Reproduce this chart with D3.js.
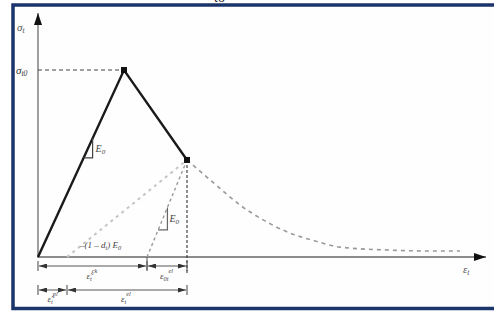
<!DOCTYPE html>
<html><head><meta charset="utf-8">
<script src="https://cdn.jsdelivr.net/npm/d3@7"></script>
<style>html,body{margin:0;padding:0;background:#fff;}svg{display:block;}</style>
</head><body>
<script>
// ---- data (arbitrary strain units, stress normalised to sigma_t0) ----
const envelopeStrain = [0, 4.3, 7.45];
const envelopeStress = [0, 1, 0.519];
const softStrain = [7.45, 8.85, 10.1, 11.35, 12.6, 13.85, 15.1, 17.6, 19.6, 21.1];
const softStress = [0.519, 0.39, 0.278, 0.193, 0.128, 0.086, 0.053, 0.037, 0.032, 0.032];
const strainPl = 1.45;     // plastic strain (unloading with damaged modulus)
const strainCk = 5.45;     // cracking strain (unloading with E0)
const axisMax = [22.4, 1.305];

const W = 494, H = 311;
const svg = d3.select("body").append("svg").attr("width", W).attr("height", H);

const x = d3.scaleLinear().domain([0, axisMax[0]]).range([38, 486]);
const y = d3.scaleLinear().domain([0, axisMax[1]]).range([257, 13]);

// caption fragment above frame
svg.append("text").attr("x", 214).attr("y", 2).attr("font-family", "Liberation Serif")
  .attr("font-size", 14).attr("fill", "#111").text("to");

// frame
svg.append("rect").attr("x", 13).attr("y", 5).attr("width", 500).attr("height", 303.5)
  .attr("fill", "#fefefe").attr("stroke", "#1b356b").attr("stroke-width", 3.5);

const defs = svg.append("defs");
function marker(id, path, w, h, refX, refY, color) {
  defs.append("marker").attr("id", id).attr("viewBox", `0 0 ${w} ${h}`)
    .attr("markerWidth", w).attr("markerHeight", h).attr("refX", refX).attr("refY", refY)
    .attr("markerUnits", "userSpaceOnUse").attr("orient", "auto")
    .append("path").attr("d", path).attr("fill", color);
}
marker("axArrow", "M0,0 L12,4 L0,8 Z", 12, 8, 12, 4, "#111");
marker("dimArrow", "M0,0 L8,2.5 L0,5 Z", 8, 5, 8, 2.5, "#333");

const g = svg.append("g");

// axes
g.append("line").attr("x1", x(0)).attr("y1", y(0)).attr("x2", x(axisMax[0])).attr("y2", y(0))
  .attr("stroke", "#666").attr("stroke-width", 1.4).attr("marker-end", "url(#axArrow)");
g.append("line").attr("x1", x(0)).attr("y1", y(0) + 1).attr("x2", x(0)).attr("y2", y(axisMax[1]))
  .attr("stroke", "#888").attr("stroke-width", 1.6).attr("marker-end", "url(#axArrow)");

const peak = [envelopeStrain[1], envelopeStress[1]];
const pt = [envelopeStrain[2], envelopeStress[2]];

// dashed guide from y-axis to peak
g.append("line").attr("x1", x(0)).attr("y1", y(peak[1])).attr("x2", x(peak[0])).attr("y2", y(peak[1]))
  .attr("stroke", "#444").attr("stroke-width", 1).attr("stroke-dasharray", "4,3");

// vertical dashed from point down
g.append("line").attr("x1", x(pt[0])).attr("y1", y(pt[1])).attr("x2", x(pt[0])).attr("y2", y(0) + 16)
  .attr("stroke", "#333").attr("stroke-width", 1.1).attr("stroke-dasharray", "3,2");

// damaged unloading line (1-d)E0
g.append("line").attr("x1", x(strainPl)).attr("y1", y(0)).attr("x2", x(pt[0])).attr("y2", y(pt[1]))
  .attr("stroke", "#c4c4c4").attr("stroke-width", 2).attr("stroke-dasharray", "3,4");
// E0 unloading line
g.append("line").attr("x1", x(strainCk)).attr("y1", y(0)).attr("x2", x(pt[0])).attr("y2", y(pt[1]))
  .attr("stroke", "#999").attr("stroke-width", 1.4).attr("stroke-dasharray", "3,3");

// softening curve
g.append("path").datum(softStrain.map((s, i) => [s, softStress[i]]))
  .attr("d", d3.line().x(d => x(d[0])).y(d => y(d[1])).curve(d3.curveMonotoneX))
  .attr("fill", "none").attr("stroke", "#9a9a9a").attr("stroke-width", 1.6).attr("stroke-dasharray", "4,4");

// main envelope
g.append("path").datum(envelopeStrain.map((s, i) => [s, envelopeStress[i]]))
  .attr("d", d3.line().x(d => x(d[0])).y(d => y(d[1])))
  .attr("fill", "none").attr("stroke", "#1a1a1a").attr("stroke-width", 2.4);

// points
[peak, pt].forEach(p => {
  g.append("rect").attr("x", x(p[0]) - 3).attr("y", y(p[1]) - 3).attr("width", 6).attr("height", 6)
    .attr("fill", "#111");
});

// slope triangles
function slopeTri(x0, y0, x1, y1, yLow, yHigh, color) {
  const slope = (y1 - y0) / (x1 - x0);
  const xl = x0 + (yLow - y0) / slope;
  const xh = x0 + (yHigh - y0) / slope;
  g.append("path").attr("d", `M${x(xl)},${y(yLow)} L${x(xh)},${y(yLow)} L${x(xh)},${y(yHigh)}`)
    .attr("fill", "none").attr("stroke", color).attr("stroke-width", 1.2);
  return [x(xh), y((yLow + yHigh) / 2)];
}
const t1 = slopeTri(0, 0, peak[0], peak[1], 0.53, 0.635, "#444");
const t2 = slopeTri(strainCk, 0, pt[0], pt[1], 0.145, 0.265, "#666");

const font = "Liberation Serif";
function label(px, py, parts, size, color) {
  const t = g.append("text").attr("x", px).attr("y", py).attr("font-family", font)
    .attr("font-size", size).attr("fill", color || "#444").attr("font-style", "italic");
  parts.forEach(p => {
    const s = t.append("tspan").text(p.t);
    if (p.sub) s.attr("font-size", size * 0.7).attr("dy", p.dy);
    else if (p.sup) s.attr("font-size", size * 0.7).attr("dy", p.dy);
    else if (p.dy) s.attr("dy", p.dy);
  });
  return t;
}
label(t1[0] + 3, t1[1] + 4, [{t: "E"}, {t: "0", sub: 1, dy: 2}], 10);
label(t2[0] + 2, t2[1] + 3, [{t: "E"}, {t: "0", sub: 1, dy: 2}], 10);
label(80, y(0) - 9, [{t: "–(1 – d"}, {t: "t", sub: 1, dy: 2}, {t: ") E", dy: -2}, {t: "0", sub: 1, dy: 2}], 9);

// axis labels
label(17, 31, [{t: "σ"}, {t: "t", sub: 1, dy: 2}], 11, "#555");
label(16, y(peak[1]) + 4, [{t: "σ"}, {t: "t0", sub: 1, dy: 2}], 11, "#333");
label(463, 273, [{t: "ε"}, {t: "t", sub: 1, dy: 2}], 11, "#555");

// dimension lines
function dimRow(yy, stops) {
  stops.forEach(s => {
    g.append("line").attr("x1", x(s)).attr("x2", x(s)).attr("y1", yy - 5).attr("y2", yy + 5)
      .attr("stroke", "#444").attr("stroke-width", 1);
  });
  for (let i = 0; i < stops.length - 1; i++) {
    const a = x(stops[i]), b = x(stops[i + 1]), m = (a + b) / 2;
    g.append("line").attr("x1", m).attr("x2", a + 1).attr("y1", yy).attr("y2", yy)
      .attr("stroke", "#555").attr("stroke-width", 1).attr("marker-end", "url(#dimArrow)");
    g.append("line").attr("x1", m).attr("x2", b - 1).attr("y1", yy).attr("y2", yy)
      .attr("stroke", "#555").attr("stroke-width", 1).attr("marker-end", "url(#dimArrow)");
  }
}
dimRow(266, [0, strainCk, pt[0]]);
dimRow(290, [0, strainPl, pt[0]]);
g.append("line").attr("x1", x(strainCk)).attr("x2", x(strainCk)).attr("y1", y(0)).attr("y2", 270)
  .attr("stroke", "#555").attr("stroke-width", 1);

label(x(strainCk / 2) - 6, 279, [{t: "ε̃"}, {t: "t", sub: 1, dy: 2}, {t: "ck", sup: 1, dy: -8}], 9);
label(x((strainCk + pt[0]) / 2) - 7, 279, [{t: "ε"}, {t: "0t", sub: 1, dy: 2}, {t: "el", sup: 1, dy: -8}], 9);
label(x(strainPl / 2) - 5, 302, [{t: "ε̃"}, {t: "t", sub: 1, dy: 2}, {t: "pl", sup: 1, dy: -8}], 9);
label(x((strainPl + pt[0]) / 2) - 6, 302, [{t: "ε"}, {t: "t", sub: 1, dy: 2}, {t: "el", sup: 1, dy: -8}], 9);
</script>
</body></html>
